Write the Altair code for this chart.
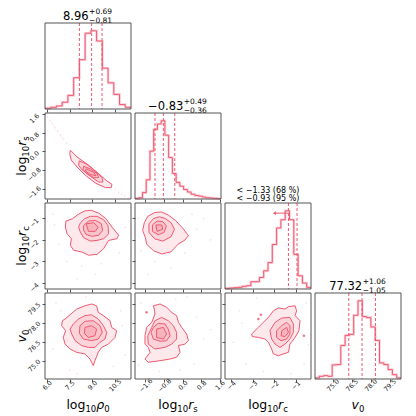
import altair as alt
import numpy as np
import pandas as pd

FONT = "DejaVu Sans"
COLOR = "#ee5a72"
FRAME = "#555555"
W = H = 86

# ---------------- data ----------------
ranges = {"rho0": [5.87, 11.57], "rs": [-2.05, 1.65], "rc": [-4.28, -0.28], "v0": [73.6, 80.4]}
tick_values = {"rho0": [6.0, 7.5, 9.0, 10.5], "rs": [-1.6, -0.8, 0.0, 0.8, 1.6],
               "rc": [-4, -3, -2, -1], "v0": [75.0, 76.5, 78.0, 79.5]}
tick_formats = {"rho0": ".1f", "rs": ".1f", "rc": "d", "v0": ".1f"}

hist_rho0 = [2, 5, 9, 20, 40, 92, 145, 223, 230, 200, 120, 77, 43, 13, 5]
hist_rs = [2, 4, 20, 60, 150, 218, 235, 245, 200, 130, 80, 52, 40, 30, 22, 15, 11, 9, 6, 4, 3, 2, 1]
hist_rc = [2, 3, 4, 5, 8, 10, 22, 22, 35, 55, 80, 135, 185, 210, 237, 210, 105, 40, 18, 5]
hist_v0 = [3, 8, 10, 8, 42, 43, 100, 130, 133, 190, 233, 186, 183, 155, 115, 48, 43, 28, 13, 3]

quant_rho0 = [8.15, 8.96, 9.65]
quant_rs = [-1.19, -0.83, -0.34]
limits_rc = [-1.33, -0.93]
quant_v0 = [76.27, 77.32, 78.38]
rc_arrow_from, rc_arrow_to, rc_arrow_height = -1.33, -1.98, 230

# contour vertices (outer -> core)
cont_rho0_rs = [
    [(7.55, 0.05), (7.99, -0.24), (8.77, -0.60), (9.43, -0.96), (9.98, -1.28), (10.31, -1.42), (10.26, -1.56),
     (9.87, -1.56), (9.20, -1.36), (8.54, -1.03), (7.99, -0.67), (7.61, -0.38), (7.51, -0.10)],
    [(8.14, -0.41), (8.65, -0.56), (9.20, -0.85), (9.65, -1.13), (9.71, -1.32), (9.43, -1.32), (8.87, -1.07),
     (8.32, -0.79), (8.10, -0.60)],
    [(8.43, -0.64), (8.87, -0.75), (9.32, -0.96), (9.43, -1.13), (9.10, -1.13), (8.65, -0.96), (8.39, -0.79)],
    [(8.60, -0.75), (9.10, -0.90), (9.25, -1.05), (8.90, -1.00), (8.55, -0.85)],
]
cont_rho0_rc = [
    [(7.26, -1.12), (7.70, -1.01), (8.06, -0.81), (8.50, -0.65), (8.94, -0.62), (9.43, -0.75), (9.91, -1.01),
     (10.31, -1.40), (10.75, -1.78), (10.64, -1.94), (10.09, -2.02), (9.76, -2.40), (9.32, -2.67), (8.76, -2.71),
     (8.32, -2.56), (7.77, -2.48), (7.55, -2.25), (7.62, -1.94), (7.33, -1.71), (7.22, -1.40)],
    [(8.21, -1.21), (8.50, -1.01), (8.87, -0.90), (9.32, -0.90), (9.76, -1.06), (10.04, -1.32), (10.09, -1.71),
     (9.76, -1.94), (9.32, -2.02), (8.87, -2.05), (8.43, -1.89), (8.21, -1.63), (8.10, -1.40)],
    [(8.43, -1.32), (8.76, -1.12), (9.21, -1.09), (9.60, -1.24), (9.69, -1.55), (9.43, -1.78), (8.98, -1.83),
     (8.59, -1.74), (8.43, -1.55)],
    [(8.60, -1.25), (9.10, -1.20), (9.40, -1.40), (9.20, -1.60), (8.75, -1.60)],
]
cont_rs_rc = [
    [(-1.65, -1.20), (-1.50, -0.90), (-1.20, -0.72), (-0.90, -0.70), (-0.60, -0.85), (-0.30, -1.10), (0.00, -1.45),
     (0.25, -1.80), (0.10, -2.00), (-0.20, -2.20), (-0.50, -2.55), (-0.90, -2.65), (-1.25, -2.50), (-1.55, -2.20),
     (-1.60, -1.90), (-1.72, -1.55)],
    [(-1.45, -1.25), (-1.25, -1.00), (-1.00, -0.92), (-0.75, -1.00), (-0.50, -1.20), (-0.35, -1.50), (-0.50, -1.85),
     (-0.85, -2.05), (-1.20, -1.95), (-1.45, -1.65)],
    [(-1.30, -1.30), (-1.10, -1.12), (-0.85, -1.15), (-0.70, -1.35), (-0.80, -1.65), (-1.05, -1.75), (-1.30, -1.60)],
    [(-1.15, -1.30), (-0.90, -1.30), (-0.85, -1.50), (-1.10, -1.60)],
]
cont_rho0_v0 = [
    [(7.20, 78.34), (7.53, 78.68), (7.97, 79.13), (8.52, 79.39), (8.96, 79.53), (9.29, 79.39), (9.40, 78.87),
     (9.74, 78.61), (10.18, 78.21), (10.29, 77.68), (10.62, 77.42), (10.51, 76.89), (10.07, 76.36), (9.63, 76.10),
     (9.40, 75.71), (9.18, 75.05), (9.07, 74.66), (8.85, 75.18), (8.52, 75.58), (7.97, 75.71), (7.53, 75.97),
     (7.20, 76.36), (7.08, 76.89), (7.24, 77.42), (6.97, 77.82), (7.02, 78.21)],
    [(7.75, 77.95), (8.08, 78.34), (8.52, 78.61), (8.96, 78.68), (9.40, 78.34), (9.74, 77.82), (9.96, 77.29),
     (9.85, 76.76), (9.51, 76.50), (9.18, 76.10), (8.74, 76.10), (8.30, 76.24), (7.86, 76.63), (7.64, 77.16),
     (7.53, 77.55)],
    [(8.19, 77.82), (8.52, 78.16), (9.07, 78.21), (9.51, 77.82), (9.67, 77.29), (9.40, 76.76), (8.96, 76.63),
     (8.41, 76.76), (8.15, 77.21)],
    [(8.52, 77.68), (8.96, 77.82), (9.29, 77.55), (9.18, 77.02), (8.74, 76.89), (8.48, 77.21)],
]
cont_rs_v0 = [
    [(-1.26, 79.39), (-0.97, 79.53), (-0.69, 79.27), (-0.47, 78.87), (-0.26, 78.61), (-0.18, 78.08), (-0.04, 77.68),
     (0.17, 77.16), (0.25, 76.63), (0.10, 76.36), (-0.18, 76.24), (-0.11, 75.71), (-0.26, 75.32), (-0.54, 75.18),
     (-0.97, 75.05), (-1.48, 74.92), (-1.62, 75.18), (-1.40, 75.71), (-1.48, 76.10), (-1.62, 76.36), (-1.62, 77.02),
     (-1.55, 77.68), (-1.33, 78.08), (-1.19, 78.74), (-1.22, 79.13)],
    [(-1.33, 77.68), (-1.19, 78.21), (-0.90, 78.47), (-0.62, 78.21), (-0.40, 77.82), (-0.26, 77.29), (-0.26, 76.76),
     (-0.47, 76.36), (-0.76, 76.10), (-1.19, 75.97), (-1.48, 76.36), (-1.50, 77.02)],
    [(-1.26, 77.68), (-1.05, 78.00), (-0.76, 77.95), (-0.62, 77.55), (-0.54, 77.02), (-0.69, 76.63), (-0.97, 76.58),
     (-1.26, 76.76), (-1.36, 77.29)],
    [(-1.12, 77.55), (-0.83, 77.68), (-0.69, 77.16), (-0.83, 76.76), (-1.12, 76.89)],
]
cont_rc_v0 = [
    [(-3.04, 77.16), (-2.73, 77.68), (-2.50, 78.08), (-2.26, 78.47), (-2.03, 78.99), (-1.80, 79.22), (-1.49, 79.13),
     (-1.33, 79.32), (-1.02, 79.39), (-0.95, 78.99), (-1.02, 78.61), (-0.79, 78.21), (-0.84, 77.42), (-1.02, 76.89),
     (-1.26, 76.36), (-1.33, 75.71), (-1.57, 75.58), (-1.80, 75.44), (-2.03, 75.58), (-2.11, 75.97), (-2.26, 76.50),
     (-2.42, 76.76), (-2.73, 76.89), (-3.01, 76.95)],
    [(-2.19, 77.42), (-1.95, 78.08), (-1.64, 78.42), (-1.26, 78.47), (-1.10, 77.95), (-1.10, 77.29), (-1.26, 76.76),
     (-1.49, 76.36), (-1.72, 76.10), (-1.95, 76.36), (-2.11, 76.76)],
    [(-1.88, 77.42), (-1.64, 77.82), (-1.41, 78.08), (-1.26, 77.82), (-1.26, 77.16), (-1.41, 76.76), (-1.68, 76.63),
     (-1.88, 76.89)],
    [(-1.64, 77.42), (-1.41, 77.68), (-1.33, 77.29), (-1.49, 76.95), (-1.67, 77.02)],
]

# faint individual samples
pts_rho0_rs = [(6.02, 1.48), (6.2, 1.32), (6.35, 1.2), (6.55, 1.02), (6.7, 0.88), (6.9, 0.7), (7.1, 0.52),
               (7.3, 0.36), (10.5, -1.62), (10.75, -1.75), (10.95, -1.85), (11.15, -1.92), (11.4, -2.0),
               (7.0, 0.6), (6.45, 1.1)]
pts_rho0_rc = [(6.5, -1.3), (6.8, -2.2), (7.3, -3.0), (8.3, -3.2), (9.6, -3.1), (10.8, -2.6), (11.2, -1.4),
               (8.0, -3.8), (9.2, -3.6), (6.4, -0.8)]
pts_rs_rc = [(-1.9, -1.0), (-1.8, -2.5), (-1.2, -3.0), (0.1, -2.6), (0.6, -1.5), (0.9, -1.0), (-0.5, -3.3),
             (0.4, -0.8), (-1.5, -3.6), (1.2, -2.0)]
pts_rho0_v0 = [(6.6, 79.6), (6.4, 76.0), (7.5, 74.3), (10.9, 79.0), (11.2, 75.5), (8.0, 74.0), (10.4, 74.6),
               (6.9, 79.0), (11.0, 77.8), (8.6, 80.1)]
pts_rs_v0 = [(-1.8, 79.6), (-0.3, 79.9), (0.6, 78.5), (0.9, 76.8), (0.5, 74.8), (-1.0, 74.2), (-1.9, 74.7),
             (1.2, 77.5), (0.2, 80.1), (-0.1, 74.3)]
pts_rc_v0 = [(-3.6, 79.0), (-3.9, 76.5), (-3.3, 74.8), (-2.5, 74.2), (-0.6, 74.8), (-0.5, 79.6), (-2.8, 80.0),
             (-0.4, 76.3), (-3.5, 78.0), (-1.2, 74.0)]
blobs_rc_v0 = [(-2.73, 78.34), (-2.61, 78.68), (-0.61, 77.02)]
blobs_rs_v0 = [(-1.55, 78.87)]

# ---------------- helpers ----------------
DUMMY = pd.DataFrame({"d": [0]})
EM = {"l": 0.278, "o": 0.612, "g": 0.635, "r": 0.411, "s": 0.521, "c": 0.550, "v": 0.592, "ρ": 0.635,
      ".": 0.318, "+": 0.838, "−": 0.838}


def text_width(s, size):
    return sum(EM.get(ch, 0.636) for ch in s) * size


def txt(s, size, x, y, align="left", angle=0, italic=False):
    return alt.Chart(DUMMY).mark_text(
        text=s, fontSize=size, font=FONT, align=align, baseline="alphabetic", angle=angle,
        fontStyle="italic" if italic else "normal", color="black"
    ).encode(x=alt.value(x), y=alt.value(y))


def math_label(pieces, cx, cy, vertical=False):
    total = sum(text_width(t, s) for t, s, _, _ in pieces)
    pos = -total / 2
    out = []
    for t, s, it, shift in pieces:
        if vertical:
            out.append(txt(t, s, cx + shift, cy - pos, angle=270, italic=it))
        else:
            out.append(txt(t, s, cx + pos, cy + shift, italic=it))
        pos += text_width(t, s)
    return out


TITLE_PIECES = {
    "rho0": [("log", 12.5, False, 0), ("10", 8.5, False, 3), ("ρ", 12.5, True, 0), ("0", 8.5, False, 3)],
    "rs": [("log", 12.5, False, 0), ("10", 8.5, False, 3), ("r", 12.5, True, 0), ("s", 8.5, False, 3)],
    "rc": [("log", 12.5, False, 0), ("10", 8.5, False, 3), ("r", 12.5, True, 0), ("c", 8.5, False, 3)],
    "v0": [("v", 12.5, True, 0), ("0", 8.5, False, 3)],
}


def axis_common(key, show_labels):
    return dict(values=tick_values[key], format=tick_formats[key], labels=show_labels, title=None, grid=False,
                domain=False, tickSize=3, tickWidth=1, tickColor=FRAME, labelAngle=-45, labelAlign="center",
                labelBaseline="middle", labelFontSize=6.5, labelFont=FONT, labelColor="#222222",
                labelOverlap=False, labelFlush=False)


def x_enc(key, show_labels):
    return alt.X("x:Q", scale=alt.Scale(domain=ranges[key], nice=False, zero=False),
                 axis=alt.Axis(labelPadding=3, **axis_common(key, show_labels)))


def y_enc(key, show_labels):
    return alt.Y("y:Q", scale=alt.Scale(domain=ranges[key], nice=False, zero=False),
                 axis=alt.Axis(labelPadding=8, labelOffset=4, **axis_common(key, show_labels)))


def frame():
    return alt.Chart(DUMMY).mark_rect(fillOpacity=0, stroke=FRAME, strokeWidth=1).encode(
        x=alt.value(0), x2=alt.value(W), y=alt.value(0), y2=alt.value(H))


def hist_cell(key, counts, lines, last_row, title_layers, arrow=False):
    edges = np.linspace(ranges[key][0], ranges[key][1], len(counts) + 1)
    df = pd.DataFrame({"x": edges, "y": list(counts) + [counts[-1]]})
    X = x_enc(key, last_row)
    Y = alt.Y("y:Q", scale=alt.Scale(domain=[0, max(counts) * 1.1], nice=False), axis=None)
    base = alt.Chart(df)
    layers = [
        base.mark_line(interpolate="step-after", color=COLOR, strokeWidth=2.6, opacity=0.28).encode(x=X, y=Y),
        base.mark_line(interpolate="step-after", color=COLOR, strokeWidth=1).encode(x=X, y=Y),
        alt.Chart(pd.DataFrame({"x": lines})).mark_rule(color=COLOR, strokeDash=[3, 2], strokeWidth=1).encode(x=X),
    ]
    if arrow:
        adf = pd.DataFrame({"x": [rc_arrow_from], "x2": [rc_arrow_to], "y": [rc_arrow_height]})
        layers.append(alt.Chart(adf).mark_rule(color=COLOR, strokeWidth=1).encode(x=X, x2="x2:Q", y=Y))
        hdf = pd.DataFrame({"x": [rc_arrow_to], "y": [rc_arrow_height]})
        layers.append(alt.Chart(hdf).mark_point(shape="triangle-left", filled=True, size=14, color=COLOR,
                                                opacity=1).encode(x=X, y=Y))
    if last_row:
        layers += math_label(TITLE_PIECES[key], W / 2, H + 29.5)
    layers += title_layers
    layers.append(frame())
    return alt.layer(*layers).properties(width=W, height=H)


def pair_cell(kx, ky, contours, pts, blobs, first_col, last_row):
    rows = []
    for li, poly in enumerate(contours):
        for k, (x, y) in enumerate(list(poly) + [poly[0]]):
            rows.append({"x": x, "y": y, "lev": li, "k": k})
    cdf = pd.DataFrame(rows)
    X = x_enc(kx, last_row)
    Y = y_enc(ky, first_col)
    layers = [
        alt.Chart(pd.DataFrame(pts, columns=["x", "y"])).mark_circle(size=3, color=COLOR, opacity=0.18).encode(
            x=X, y=Y),
        alt.Chart(cdf).mark_line(fill=COLOR, fillOpacity=0.14, strokeOpacity=0).encode(
            x=X, y=Y, detail="lev:N", order="k:Q"),
        alt.Chart(cdf).mark_line(color=COLOR, strokeWidth=1).encode(x=X, y=Y, detail="lev:N", order="k:Q"),
    ]
    if blobs:
        layers.append(alt.Chart(pd.DataFrame(blobs, columns=["x", "y"])).mark_circle(
            size=7, color=COLOR, opacity=0.8).encode(x=X, y=Y))
    if last_row:
        layers += math_label(TITLE_PIECES[kx], W / 2, H + 29.5)
    if first_col:
        layers += math_label(TITLE_PIECES[ky], -19, H / 2, vertical=True)
    layers.append(frame())
    return alt.layer(*layers).properties(width=W, height=H)


def empty_cell():
    return alt.Chart(DUMMY).mark_point(opacity=0).encode(x=alt.value(0), y=alt.value(0)).properties(
        width=W, height=H)


def quant_title(main, sup, sub, split):
    return [txt(main, 11.5, split, -2.7, align="right"),
            txt(sup, 7.5, split + 0.5, -8.6),
            txt(sub, 7.5, split + 0.5, 0.2)]


t1 = quant_title("8.96", "+0.69", "−0.81", 43.6)
t2 = quant_title("−0.83", "+0.49", "−0.36", 48.3)
t4 = quant_title("77.32", "+1.06", "−1.05", 47.2)
t3 = [alt.Chart(DUMMY).mark_text(text=s, fontSize=8, font=FONT, align="center", baseline="alphabetic",
                                 color="black").encode(x=alt.value(W / 2), y=alt.value(yy))
      for s, yy in [("< −1.33 (68 %)", -10.5), ("< −0.93 (95 %)", -2)]]

cells = [
    hist_cell("rho0", hist_rho0, quant_rho0, False, t1), empty_cell(), empty_cell(), empty_cell(),
    pair_cell("rho0", "rs", cont_rho0_rs, pts_rho0_rs, None, True, False),
    hist_cell("rs", hist_rs, quant_rs, False, t2), empty_cell(), empty_cell(),
    pair_cell("rho0", "rc", cont_rho0_rc, pts_rho0_rc, None, True, False),
    pair_cell("rs", "rc", cont_rs_rc, pts_rs_rc, None, False, False),
    hist_cell("rc", hist_rc, limits_rc, False, t3, arrow=True), empty_cell(),
    pair_cell("rho0", "v0", cont_rho0_v0, pts_rho0_v0, None, True, True),
    pair_cell("rs", "v0", cont_rs_v0, pts_rs_v0, blobs_rs_v0, False, True),
    pair_cell("rc", "v0", cont_rc_v0, pts_rc_v0, blobs_rc_v0, False, True),
    hist_cell("v0", hist_v0, quant_v0, True, t4),
]

chart = alt.concat(*cells, columns=4, spacing=4, bounds="flush").properties(
    padding={"left": 7, "top": 0, "right": 0, "bottom": 0}
).configure(font=FONT).configure_view(stroke="transparent", strokeWidth=0)

chart.save("out.html", embed_options={"renderer": "svg", "actions": False})
